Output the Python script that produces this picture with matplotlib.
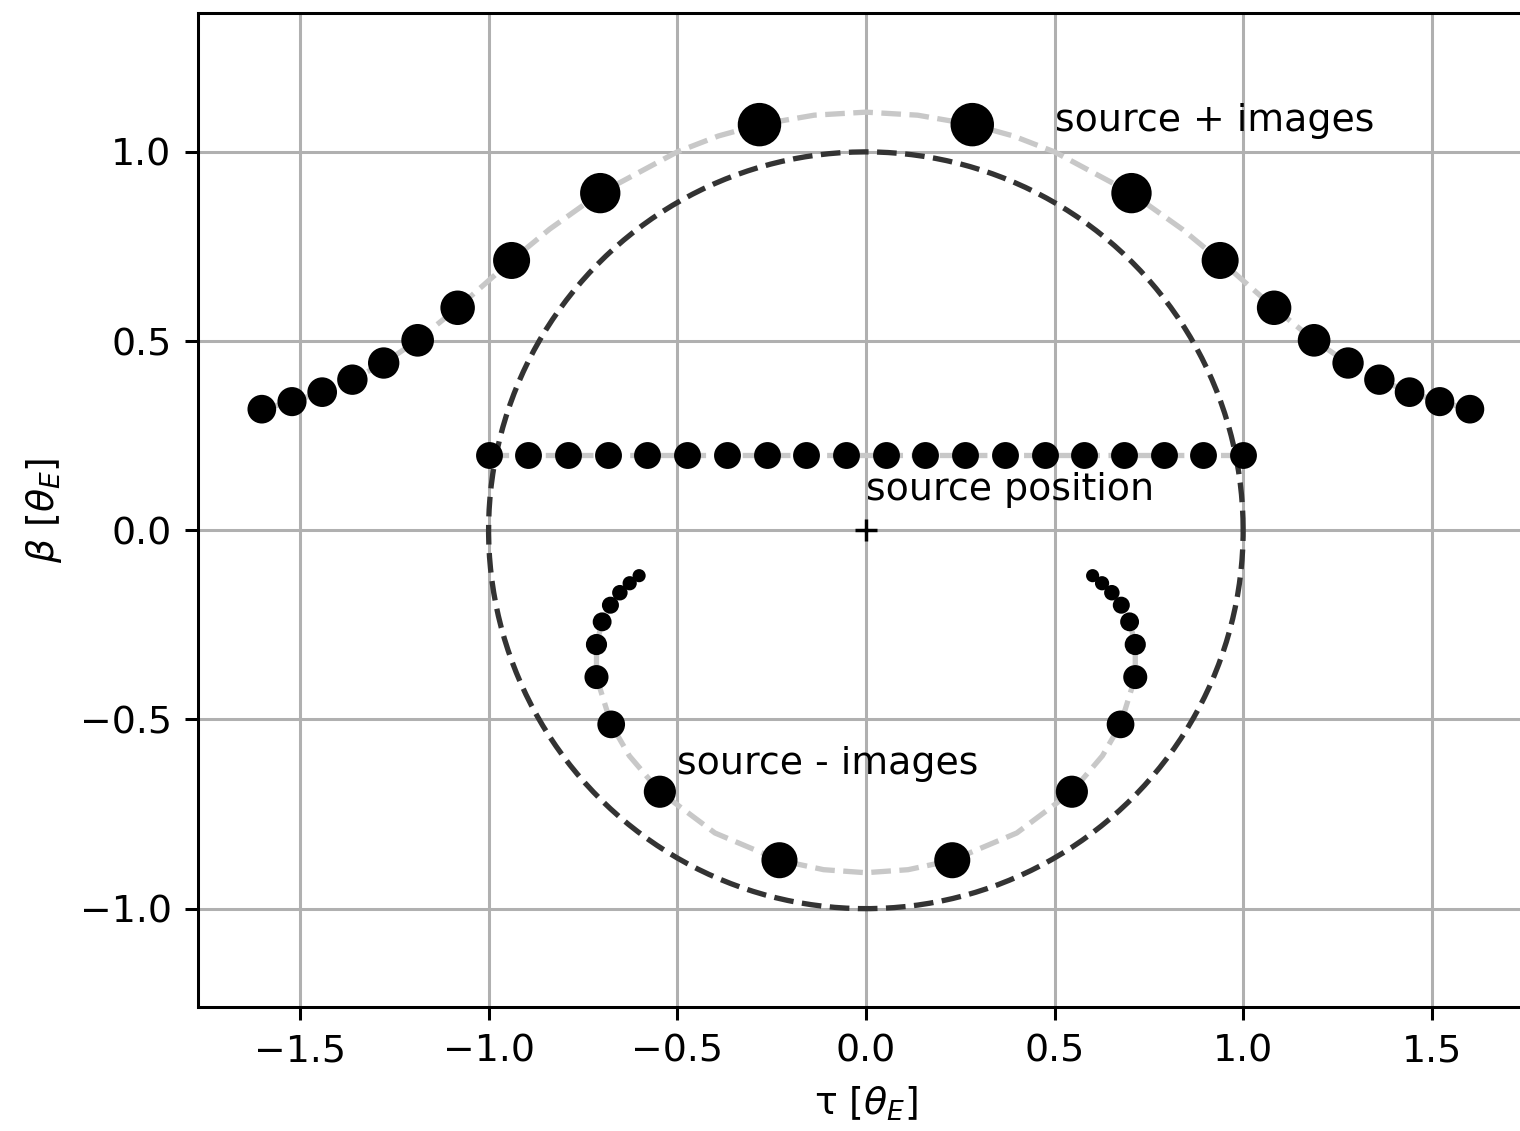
import matplotlib
matplotlib.use("Agg")
import matplotlib.pyplot as plt
import numpy as np

# source track: tau positions at fixed beta
tau = [-1.0, -0.8947, -0.7895, -0.6842, -0.5789, -0.4737, -0.3684, -0.2632, -0.1579, -0.0526,
       0.0526, 0.1579, 0.2632, 0.3684, 0.4737, 0.5789, 0.6842, 0.7895, 0.8947, 1.0]
beta_src = 0.2

# + images
plus_x = [-1.601, -1.521, -1.441, -1.361, -1.278, -1.188, -1.082, -0.939, -0.704, -0.282,
          0.282, 0.704, 0.939, 1.082, 1.188, 1.278, 1.361, 1.441, 1.521, 1.601]
plus_y = [0.320, 0.340, 0.365, 0.398, 0.442, 0.502, 0.588, 0.713, 0.891, 1.072,
          1.072, 0.891, 0.713, 0.588, 0.502, 0.442, 0.398, 0.365, 0.340, 0.320]
mag_plus = [1.164, 1.204, 1.257, 1.329, 1.427, 1.566, 1.770, 2.074, 2.510, 2.956,
            2.956, 2.510, 2.074, 1.770, 1.566, 1.427, 1.329, 1.257, 1.204, 1.164]

# - images
minus_x = [0.601, 0.626, 0.652, 0.677, 0.699, 0.714, 0.714, 0.675, 0.546, 0.229,
           -0.229, -0.546, -0.675, -0.714, -0.714, -0.699, -0.677, -0.652, -0.626, -0.601]
minus_y = [-0.120, -0.140, -0.165, -0.198, -0.242, -0.302, -0.388, -0.513, -0.691, -0.872,
           -0.872, -0.691, -0.513, -0.388, -0.302, -0.242, -0.198, -0.165, -0.140, -0.120]
mag_minus = [0.164, 0.204, 0.257, 0.329, 0.427, 0.566, 0.770, 1.074, 1.510, 1.956,
             1.956, 1.510, 1.074, 0.770, 0.566, 0.427, 0.329, 0.257, 0.204, 0.164]

# image tracks (dashed guide curves)
plus_track_x = [-1.601, -1.521, -1.441, -1.361, -1.278, -1.188, -1.082, -0.939, -0.838, -0.704,
                -0.500, -0.391, -0.282, -0.137, 0.0, 0.137, 0.282, 0.391, 0.500,
                0.704, 0.838, 0.939, 1.082, 1.188, 1.278, 1.361, 1.441, 1.521, 1.601]
plus_track_y = [0.320, 0.340, 0.365, 0.398, 0.442, 0.502, 0.588, 0.713, 0.796, 0.891,
                1.000, 1.042, 1.072, 1.097, 1.105, 1.097, 1.072, 1.042, 1.000,
                0.891, 0.796, 0.713, 0.588, 0.502, 0.442, 0.398, 0.365, 0.340, 0.320]
minus_track_x = [0.601, 0.626, 0.652, 0.677, 0.699, 0.714, 0.714, 0.675, 0.627, 0.546,
                 0.400, 0.229, 0.112, 0.0, -0.112, -0.229, -0.400,
                 -0.546, -0.627, -0.675, -0.714, -0.714, -0.699, -0.677, -0.652, -0.626, -0.601]
minus_track_y = [-0.120, -0.140, -0.165, -0.198, -0.242, -0.302, -0.388, -0.513, -0.596, -0.691,
                 -0.800, -0.872, -0.897, -0.905, -0.897, -0.872, -0.800,
                 -0.691, -0.596, -0.513, -0.388, -0.302, -0.242, -0.198, -0.165, -0.140, -0.120]

einstein_r = 1.0
size_unit = 37

DPI = 273
fig = plt.figure(figsize=(1520 / DPI, 1131 / DPI), dpi=DPI)
ax = fig.add_axes([0.1303, 0.1096, 0.8787, 0.8789])

track = dict(color="#c8c8c8", ls="--", lw=1.4, zorder=2)
ax.plot([tau[0], tau[-1]], [beta_src, beta_src], **track)
ax.plot(plus_track_x, plus_track_y, **track)
ax.plot(minus_track_x, minus_track_y, **track)

phi = np.linspace(0, 2 * np.pi, 400)
ax.plot(einstein_r * np.cos(phi), einstein_r * np.sin(phi), color="#333333", ls="--", lw=1.4, zorder=2)

ax.scatter(tau, [beta_src] * len(tau), s=size_unit, color="k", zorder=3)
ax.scatter(plus_x, plus_y, s=np.array(mag_plus) * size_unit, color="k", zorder=3)
ax.scatter(minus_x, minus_y, s=np.array(mag_minus) * size_unit, color="k", zorder=3)
ax.plot(0, 0, "k+", ms=6, mew=0.9, zorder=3)

ax.text(0.5, 1.055, "source + images", fontsize=10)
ax.text(0.0, 0.08, "source position", fontsize=10)
ax.text(-0.5, -0.645, "source - images", fontsize=10)

ax.set_xlim(-1.77, 1.77)
ax.set_ylim(-1.26, 1.367)
ax.set_xticks([-1.5, -1.0, -0.5, 0.0, 0.5, 1.0, 1.5])
ax.set_yticks([-1.0, -0.5, 0.0, 0.5, 1.0])
ax.grid(True)
ax.set_axisbelow(True)
ax.set_xlabel(r"τ [$\theta_E$]")
ax.set_ylabel(r"$\beta$ [$\theta_E$]")

fig.savefig("out.png", dpi=DPI)
